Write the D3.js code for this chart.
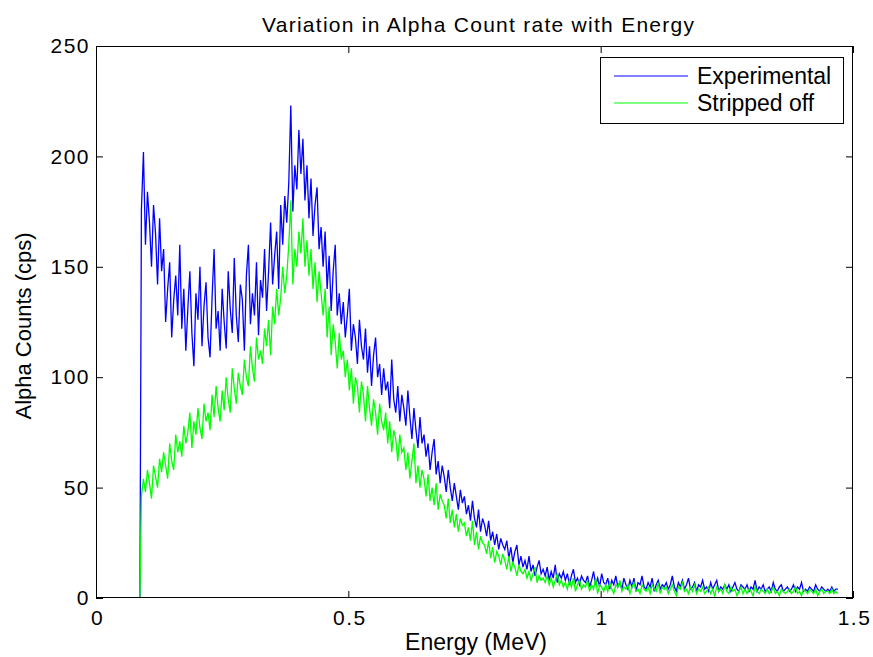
<!DOCTYPE html>
<html><head><meta charset="utf-8">
<script src="https://cdn.jsdelivr.net/npm/d3@7"></script>
<style>body{margin:0;background:#fff}svg{display:block}text{font-family:"Liberation Sans",Arial,sans-serif;fill:#000}</style>
</head><body><svg id="c" width="873" height="657"></svg>
<script>
const title = "Variation in Alpha Count rate with Energy";
const xLabel = "Energy (MeV)";
const yLabel = "Alpha Counts (cps)";
const seriesNames = ["Experimental", "Stripped off"];
const seriesColors = ["#0000ff", "#00ff00"];
const xTicks = [0, 0.5, 1, 1.5];
const xTickLabels = ["0", "0.5", "1", "1.5"];
const yTicks = [0, 50, 100, 150, 200, 250];
const onsetEnergy = 0.087;   // channel where counts start
const firstEnergy = 0.09;    // energy of first channel with counts
const channelWidth = 0.004;  // MeV per channel

const experimental = [0,
176,202,160,184,170,150,178,165,142,172,
148,158,125,140,152,118,135,146,128,160,
122,140,112,131,148,120,105,138,126,150,
114,132,143,118,109,136,158,122,130,112,
140,125,113,148,131,120,154,128,116,142,
135,112,146,160,124,138,128,152,119,144,
136,158,130,148,170,142,155,166,140,178,
160,182,170,188,223,175,196,185,212,192,
208,180,196,172,190,164,178,186,158,168,
150,166,140,155,130,148,160,128,138,124,
134,118,128,140,112,124,118,106,126,114,
108,122,102,114,96,110,118,100,106,92,
104,94,98,86,108,90,84,96,80,92,
86,78,94,82,72,86,76,68,82,70,
74,64,70,58,66,72,56,62,52,60,
55,48,58,50,44,52,46,40,49,43,
46,38,42,35,44,36,32,40,30,36,
33,28,35,26,30,24,29,22,27,24,
22,26,18,23,16,21,24,15,19,14,
17,13,19,12,15,10,14,17,11,13,
10,14,8,12,9,15,7,11,9,12,
8,11,6,10,13,7,9,6,10,8,
7,10,5,8,12,6,9,5,11,7,
6,9,4,8,6,10,5,7,4,9,
6,4,8,5,9,3,7,6,10,5,
4,7,5,9,3,6,8,4,6,5,
7,4,6,10,5,3,7,5,8,4,
6,9,4,5,7,3,6,5,8,4,
5,3,7,4,6,8,3,5,4,6,
4,6,3,5,7,4,3,6,5,4,
6,3,5,4,8,3,5,4,6,3,
4,5,3,7,4,3,5,6,3,4,
5,3,4,6,3,5,4,7,3,4,
3,5,4,3,6,4,3,5,4,3,
4,3,5,3,4,4];

const strippedOff = [0,
46,54,48,58,52,45,60,55,50,63,
57,66,60,54,70,62,58,74,66,71,
64,78,70,75,84,68,80,74,86,77,
72,88,80,84,76,92,82,96,86,80,
94,85,100,90,84,104,95,88,102,96,
92,108,100,96,114,104,98,118,108,112,
106,122,114,126,110,132,124,140,128,136,
150,138,146,160,180,142,158,150,166,156,
172,150,162,146,158,140,152,134,148,138,
128,140,118,132,110,124,116,104,120,108,
112,100,108,94,104,88,100,96,84,98,
92,80,96,86,78,90,84,74,88,80,
76,84,70,80,66,76,72,62,74,66,
68,58,66,54,62,70,52,60,50,58,
54,46,56,44,50,42,52,40,47,44,
42,36,45,34,40,32,38,30,36,33,
34,28,32,26,35,24,30,22,28,25,
24,20,26,18,23,16,21,19,15,20,
17,13,19,12,16,14,10,15,12,11,
13,9,12,8,11,14,7,10,8,9,
7,10,6,9,5,8,11,6,8,5,
7,4,8,5,9,3,6,8,4,6,
5,8,3,6,4,9,2,6,5,3,
6,3,7,4,2,6,5,8,3,5,
4,6,2,5,7,3,4,2,6,4,
3,5,2,6,4,3,7,2,5,4,
5,2,4,6,3,1,5,4,7,3,
4,2,5,3,6,2,4,3,5,2,
3,5,2,4,1,5,3,4,2,6,
3,2,5,3,4,1,3,5,2,4,
2,4,3,1,5,3,2,4,3,2,
4,2,3,5,2,3,1,4,3,2,
3,4,2,3,5,2,3,1,4,3,
2,4,3,2,4,1,3,4,2,3,
3,2,4,2,3,2];

const energyAt = i => i === 0 ? onsetEnergy : firstEnergy + (i - 1) * channelWidth;

const svg = d3.select("#c");
const L = 96, R = 853, T = 46, B = 598;
const x = d3.scaleLinear().domain([0, 1.5]).range([L, R]);
const y = d3.scaleLinear().domain([0, 250]).range([B, T]);

svg.append("clipPath").attr("id","clp").append("rect")
  .attr("x", L).attr("y", T).attr("width", R-L).attr("height", B-T);

const line = d3.line().x((d,i)=>x(energyAt(i))).y(d=>y(d));
const plot = svg.append("g").attr("clip-path","url(#clp)");
[experimental, strippedOff].forEach((s,k)=>{
  plot.append("path").datum(s).attr("d", line)
    .attr("fill","none").attr("stroke", seriesColors[k]).attr("stroke-width",1.3)
    .attr("stroke-linejoin","miter");
});

svg.append("rect").attr("x",L+0.5).attr("y",T+0.5).attr("width",R-L-1).attr("height",B-T-1)
  .attr("fill","none").attr("stroke","#000").attr("stroke-width",1);

const tl = 7;
const gx = svg.append("g").attr("transform",`translate(0,${B})`)
  .call(d3.axisBottom(x).tickValues(xTicks).tickFormat((d,i)=>xTickLabels[i]).tickSizeInner(-tl).tickSizeOuter(0).tickPadding(12));
const gxt = svg.append("g").attr("transform",`translate(0,${T})`)
  .call(d3.axisTop(x).tickValues(xTicks).tickFormat("").tickSizeInner(-tl).tickSizeOuter(0));
const gy = svg.append("g").attr("transform",`translate(${L},0)`)
  .call(d3.axisLeft(y).tickValues(yTicks).tickSizeInner(-tl).tickSizeOuter(0).tickPadding(6));
const gyr = svg.append("g").attr("transform",`translate(${R},0)`)
  .call(d3.axisRight(y).tickValues(yTicks).tickFormat("").tickSizeInner(-tl).tickSizeOuter(0));
[gx,gxt,gy,gyr].forEach(g=>{
  g.select(".domain").remove();
  g.selectAll("line").attr("stroke","#000");
  g.selectAll("text").attr("font-size",21).attr("letter-spacing","1.5px")
    .attr("font-family",'"Liberation Sans",Arial,sans-serif').attr("fill","#000");
});
gx.selectAll("text").attr("dy","0.71em").attr("dx","1px");

svg.append("text").attr("x",478).attr("y",32).attr("text-anchor","middle").attr("font-size",21)
  .attr("textLength",432).attr("lengthAdjust","spacing").text(title);
svg.append("text").attr("x",476).attr("y",650).attr("text-anchor","middle").attr("font-size",23).text(xLabel);
svg.append("text").attr("transform",`translate(31,326) rotate(-90)`).attr("text-anchor","middle").attr("font-size",22).text(yLabel);

const lg = svg.append("g");
lg.append("rect").attr("x",600.5).attr("y",57.5).attr("width",243).attr("height",66)
  .attr("fill","#fff").attr("stroke","#000").attr("stroke-width",1);
seriesNames.forEach((n,k)=>{
  const yy = 76 + k*27;
  lg.append("line").attr("x1",614).attr("x2",688).attr("y1",yy).attr("y2",yy).attr("stroke",seriesColors[k]).attr("stroke-width",1);
  lg.append("text").attr("x",697).attr("y",yy+8).attr("font-size",23).text(n);
});
</script></body></html>
